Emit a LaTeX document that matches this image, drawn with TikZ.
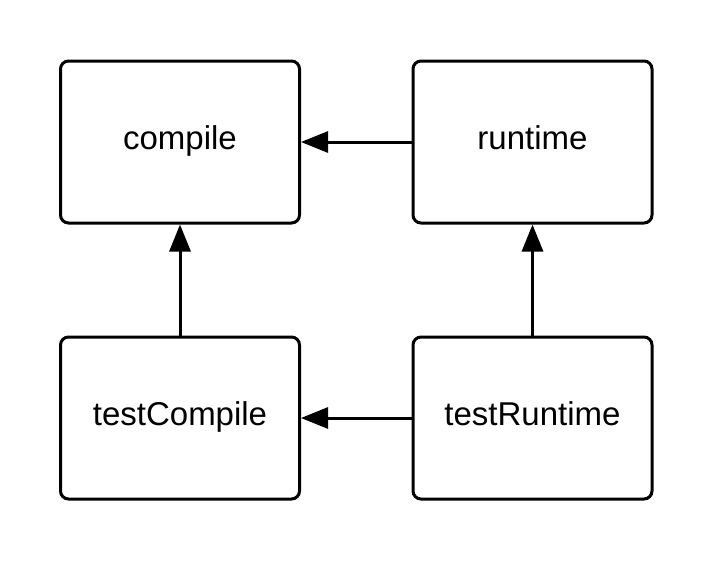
\documentclass[tikz,border=0pt]{standalone}
\usepackage{fontspec}
\setmainfont{Liberation Sans}
\usetikzlibrary{arrows.meta}
\begin{document}
\begin{tikzpicture}[x=1pt,y=1pt,
  box/.style={draw=black, line width=3pt, rounded corners=8pt, fill=white,
    minimum width=239pt, minimum height=162pt, inner sep=0pt,
    text height=23.6pt, text depth=9pt,
    font=\fontsize{33}{40}\selectfont},
  conn/.style={line width=3pt, -{Triangle[length=27pt,width=21pt]}}]
\useasboundingbox (0,0) rectangle (728,-576);
\node[box] (compile) at (180,-142) {compile};
\node[box] (runtime) at (532.5,-142) {runtime};
\node[box] (testCompile) at (180,-418) {testCompile};
\node[box] (testRuntime) at (532.5,-418) {testRuntime};
\draw[conn] (runtime) -- (compile);
\draw[conn] (testRuntime) -- (testCompile);
\draw[conn] (testCompile) -- (compile);
\draw[conn] (testRuntime) -- (runtime);
\end{tikzpicture}
\end{document}
